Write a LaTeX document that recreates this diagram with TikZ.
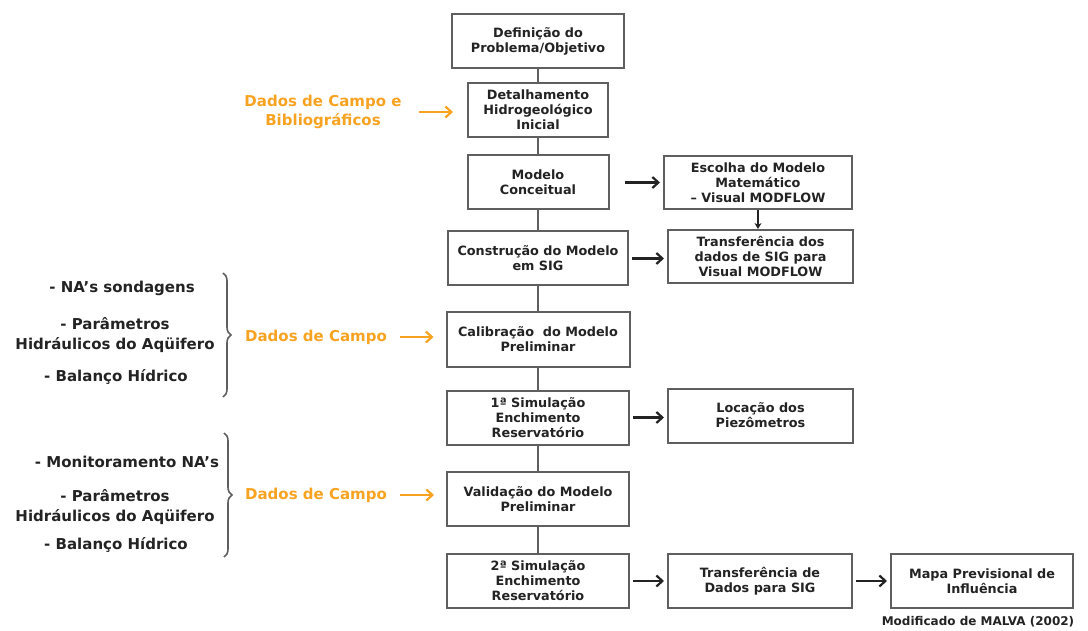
\documentclass[tikz,border=0pt]{standalone}
\usepackage{fontspec}
\setmainfont{DejaVu Sans}
\usepackage{xcolor}
\usetikzlibrary{arrows.meta,decorations.pathreplacing}

\definecolor{laranja}{RGB}{247,163,33}
\definecolor{borda}{RGB}{95,95,95}
\definecolor{texto}{RGB}{35,35,35}

\begin{document}
\begin{tikzpicture}[x=1pt,y=-1pt,
    caixa/.style={draw=borda,line width=2pt,align=center,inner sep=2pt,
      minimum height=54pt,text=texto,font=\bfseries\fontsize{12.8}{15}\selectfont},
    liga/.style={draw=borda,line width=2pt},
    seta/.style={draw=texto,line width=2.2pt,-{Straight Barb[length=6pt,width=11pt]},
      shorten <=3pt,shorten >=3pt},
    setalar/.style={draw=laranja,line width=2.2pt,-{Straight Barb[length=6pt,width=11pt]}},
    dados/.style={text=laranja,align=center,font=\bfseries\fontsize{15}{19}\selectfont},
    item/.style={text=texto,align=center,font=\bfseries\fontsize{15}{20}\selectfont},
    chave/.style={draw=borda,line width=1.6pt,decorate,decoration={brace,amplitude=8pt}}]
  \useasboundingbox (0,0) rectangle (1088,631);

  % coluna central
  \node[caixa,minimum width=172pt] (defin) at (538,41) {Definição do\\Problema/Objetivo};
  \node[caixa,minimum width=140pt] (detalh) at (538,110) {Detalhamento\\Hidrogeológico\\Inicial};
  \node[caixa,minimum width=141pt] (conceit) at (538,182.5) {Modelo\\Conceitual};
  \node[caixa,minimum width=180pt] (constr) at (538,258.5) {Construção do Modelo\\em SIG};
  \node[caixa,minimum width=183pt] (calib) at (538,339.5) {Calibração \ do Modelo\\Preliminar};
  \node[caixa,minimum width=182pt] (sim1) at (538,417.5) {1ª Simulação\\Enchimento\\Reservatório};
  \node[caixa,minimum width=182pt] (valid) at (538,499) {Validação do Modelo\\Preliminar};
  \node[caixa,minimum width=182pt] (sim2) at (538,581) {2ª Simulação\\Enchimento\\Reservatório};

  % coluna da direita
  \node[caixa,minimum width=188pt,minimum height=53pt] (escolha) at (758,182.5) {Escolha do Modelo\\Matemático\\– Visual MODFLOW};
  \node[caixa,minimum width=185pt,minimum height=53pt] (transfmod) at (760.5,256.5) {Transferência dos\\dados de SIG para\\Visual MODFLOW};
  \node[caixa,minimum width=185pt] (locacao) at (760.5,415.5) {Locação dos\\Piezômetros};
  \node[caixa,minimum width=184pt] (transfsig) at (760,581) {Transferência de\\Dados para SIG};
  \node[caixa,minimum width=182pt] (mapa) at (982,581) {Mapa Previsional de\\Influência};

  % ligacoes
  \draw[liga] (defin) -- (detalh);
  \draw[liga] (detalh) -- (conceit);
  \draw[liga] (conceit) -- (constr);
  \draw[liga] (constr) -- (calib);
  \draw[liga] (calib) -- (sim1);
  \draw[liga] (sim1) -- (valid);
  \draw[liga] (valid) -- (sim2);

  \draw[seta,shorten <=15pt] (conceit) -- (escolha);
  \draw[seta] (constr.east) -- (constr.east -| transfmod.west);
  \draw[seta] (sim1.east) -- (sim1.east -| locacao.west);
  \draw[seta] (sim2) -- (transfsig);
  \draw[seta] (transfsig) -- (mapa);
  \draw[draw=texto,line width=1.5pt,-{Stealth[length=6pt,width=7pt]}]
    (escolha.south) -- (escolha.south |- transfmod.north);

  % dados de entrada
  \node[dados] (campobib) at (323,112) {Dados de Campo e\\Bibliográficos};
  \draw[setalar,shorten <=14pt,shorten >=14pt] (campobib.east) -- (campobib.east -| detalh.west);

  \node[item] (na1) at (122,288) {- NA’s sondagens};
  \node[item] (par1) at (115,335) {- Parâmetros\\Hidráulicos do Aqüifero};
  \node[item] (bal1) at (116,377) {- Balanço Hídrico};
  \coordinate (ch1a) at (223,273);
  \coordinate (ch1b) at (223,397);
  \draw[chave] (ch1a) -- (ch1b);
  \node[dados] (campo1) at (316,337) {Dados de Campo};
  \draw[setalar,shorten <=10pt,shorten >=12pt] (campo1.east) -- (campo1.east -| calib.west);

  \node[item] (na2) at (127,462) {- Monitoramento NA’s};
  \node[item] (par2) at (115,507) {- Parâmetros\\Hidráulicos do Aqüifero};
  \node[item] (bal2) at (116,545) {- Balanço Hídrico};
  \coordinate (ch2a) at (224,433);
  \coordinate (ch2b) at (224,557);
  \draw[chave] (ch2a) -- (ch2b);
  \node[dados] (campo2) at (316,495) {Dados de Campo};
  \draw[setalar,shorten <=10pt,shorten >=12pt] (campo2.east) -- (campo2.east -| valid.west);

  % fonte
  \node[text=texto,font=\bfseries\fontsize{12}{14}\selectfont] (fonte) at (978,622) {Modificado de MALVA (2002)};
\end{tikzpicture}
\end{document}
